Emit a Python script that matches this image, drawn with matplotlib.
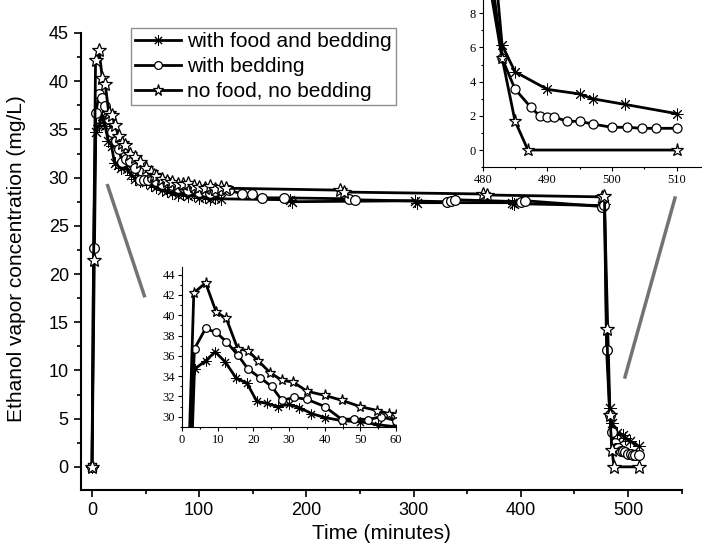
import matplotlib.pyplot as plt
from matplotlib.ticker import MultipleLocator
from matplotlib.lines import Line2D

# with food and bedding (asterisks)
t_food_bed = [0, 3.5, 6.6, 9.3, 12.1, 15.2, 18.2, 21.0, 23.9, 26.8, 29.9, 32.9, 36.3, 40.2,
              45, 50, 55, 60, 65, 70, 75, 80, 85, 90, 95, 100, 105, 110, 115, 120,
              185, 187, 301, 303, 392, 394, 476, 478,
              483, 485, 490, 495, 497, 502, 510]
c_food_bed = [0, 34.7, 35.5, 36.4, 35.4, 33.8, 33.3, 31.5, 31.3, 31.0, 31.2, 30.9, 30.3, 29.9,
              29.6, 29.5, 29.2, 29.0, 28.7, 28.6, 28.4, 28.2, 28.3, 28.1, 28.2, 27.9, 28.0, 27.8, 27.9, 27.8,
              27.7, 27.5, 27.6, 27.4, 27.4, 27.3, 27.1, 27.3,
              6.14, 4.58, 3.55, 3.28, 3.0, 2.67, 2.13]

# with bedding (circles)
t_bed = [0, 1.5, 3.5, 6.6, 9.6, 12.4, 15.6, 18.5, 22.0, 25.1, 28.0, 31.5, 35.1, 40.0,
         44.9, 48.2, 52.2, 55.7, 60, 65, 70, 75, 80, 85, 90, 95, 100, 105, 110, 115, 120, 128,
         140, 149, 159, 179, 240, 245, 331, 335, 339, 400, 404, 476, 478, 480,
         483, 485, 487.4, 488.8, 490, 491, 493, 495, 497, 500, 502.3, 504.7, 506.8, 510]
c_bed = [0, 22.7, 36.7, 38.7, 38.3, 37.4, 36.1, 34.7, 33.8, 33.0, 31.6, 31.9, 31.7, 31.0,
         29.7, 29.8, 29.7, 30.0, 29.6, 29.3, 29.5, 29.2, 28.9, 29.0, 28.7, 28.9, 28.5, 28.6, 28.4, 28.6, 28.7, 28.7,
         28.3, 28.3, 27.9, 27.9, 27.8, 27.7, 27.5, 27.6, 27.7, 27.5, 27.6, 27.0, 27.2, 12.1,
         5.36, 3.57, 2.52, 2.0, 1.95, 1.95, 1.68, 1.68, 1.52, 1.33, 1.33, 1.27, 1.27, 1.27]

# no food, no bedding (stars)
t_none = [0, 1.5, 3.3, 6.6, 9.6, 12.4, 15.6, 18.5, 21.4, 24.8, 28.0, 31.2, 35.1, 40.0,
          44.9, 49.9, 54.8, 58, 60, 65, 70, 75, 80, 85, 90, 95, 100, 105, 110, 115, 120, 125,
          231, 235, 365, 368, 476, 478, 480, 483, 485, 487, 510]
c_none = [0, 21.5, 42.2, 43.2, 40.3, 39.7, 36.7, 36.5, 35.5, 34.3, 33.6, 33.4, 32.5, 32.1,
          31.6, 31.0, 30.6, 30.3, 30.2, 29.9, 29.6, 29.5, 29.3, 29.3, 29.4, 29.1, 29.0, 28.9, 29.1, 28.8, 29.0, 28.9,
          28.7, 28.5, 28.3, 28.2, 28.0, 28.1, 14.3, 5.4, 1.7, 0, 0]

labels = ['with food and bedding', 'with bedding', 'no food, no bedding']

plt.rcParams['font.family'] = ['Liberation Sans', 'DejaVu Sans']

fig = plt.figure(figsize=(7.02, 5.49), dpi=100)

series = [(t_food_bed, c_food_bed, (8, 2, 0), 1.3, 0.7),
          (t_bed, c_bed, 'o', 1.0, 0.9),
          (t_none, c_none, '*', 1.45, 0.9)]


def draw(a, ms, lw):
    for (t, c, m, k, ew), lab in zip(series, labels):
        a.plot(t, c, color='black', lw=lw, marker=m, ms=ms * k, mfc='white',
               mec='black', mew=ew, label=lab)
    for s in ['top', 'right']:
        a.spines[s].set_visible(False)


# main plot
ax = fig.add_axes([0.1158, 0.1075, 0.8552, 0.8412])
draw(ax, 7, 2.0)
ax.set_xlim(-10, 550)
ax.set_ylim(-2.4, 45.5)
ax.xaxis.set_major_locator(MultipleLocator(100))
ax.xaxis.set_minor_locator(MultipleLocator(50))
ax.yaxis.set_major_locator(MultipleLocator(5))
ax.yaxis.set_minor_locator(MultipleLocator(2.5))
ax.tick_params(which='major', length=5, width=1.2, labelsize=13, pad=4)
ax.tick_params(which='minor', length=3, width=1.2)
ax.spines['left'].set_bounds(-2.4, 45)
for s in ['left', 'bottom']:
    ax.spines[s].set_linewidth(1.5)
ax.set_xlabel('Time (minutes)', fontsize=15, labelpad=3)
ax.set_ylabel('Ethanol vapor concentration (mg/L)', fontsize=15, labelpad=16)

leg = ax.legend(loc='upper left', bbox_to_anchor=(0.186, 0.9485), bbox_transform=fig.transFigure,
                fontsize=15, frameon=True, fancybox=False, edgecolor='0.45', borderpad=0.2,
                handletextpad=0.3, labelspacing=0.28, borderaxespad=0, handlelength=2.2,
                markerscale=0.8)
leg.get_frame().set_linewidth(1.0)

# inset: first hour
ax1 = fig.add_axes([0.2593, 0.2226, 0.3048, 0.2918])
ax1.patch.set_alpha(0)
draw(ax1, 5.5, 2.0)
ax1.set_xlim(0, 60)
ax1.set_ylim(29, 44.8)
ax1.xaxis.set_major_locator(MultipleLocator(10))
ax1.xaxis.set_minor_locator(MultipleLocator(5))
ax1.yaxis.set_major_locator(MultipleLocator(2))
ax1.yaxis.set_minor_locator(MultipleLocator(1))

# inset: after exposure
ax2 = fig.add_axes([0.6876, 0.6956, 0.3129, 0.3051])
ax2.patch.set_alpha(0)
draw(ax2, 6.5, 2.0)
ax2.set_xlim(480, 514)
ax2.set_ylim(-1, 8.8)
ax2.xaxis.set_major_locator(MultipleLocator(10))
ax2.xaxis.set_minor_locator(MultipleLocator(5))
ax2.yaxis.set_major_locator(MultipleLocator(2))
ax2.yaxis.set_minor_locator(MultipleLocator(1))

for a in [ax1, ax2]:
    a.tick_params(which='major', length=3, width=0.8, labelsize=9, pad=2)
    a.tick_params(which='minor', length=1.5, width=0.8)
    for lab in a.get_xticklabels() + a.get_yticklabels():
        lab.set_family(['Liberation Serif', 'DejaVu Serif'])
    for s in ['left', 'bottom']:
        a.spines[s].set_linewidth(0.8)

# gray lines linking main plot and insets
fig.add_artist(Line2D([0.1534, 0.2056], [0.6618, 0.4614], transform=fig.transFigure,
                      color='0.45', lw=2.5))
fig.add_artist(Line2D([0.9615, 0.8903], [0.6393, 0.3133], transform=fig.transFigure,
                      color='0.45', lw=2.5))

fig.savefig('out.png', dpi=100)
